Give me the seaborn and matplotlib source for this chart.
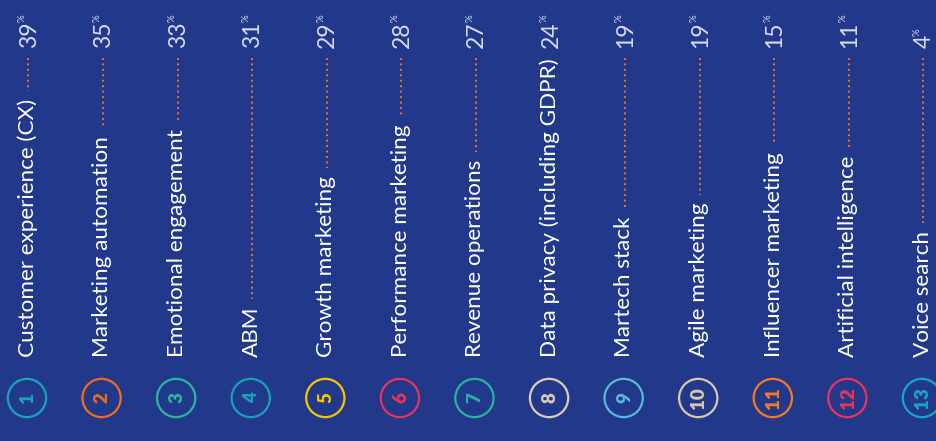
import pandas as pd
import seaborn as sns
import matplotlib.pyplot as plt
import numpy as np

# Chart data
ranks = list(range(1, 14))
topics = ["Customer experience (CX)", "Marketing automation", "Emotional engagement",
          "ABM", "Growth marketing", "Performance marketing", "Revenue operations",
          "Data privacy (including GDPR)", "Martech stack", "Agile marketing",
          "Influencer marketing", "Artificial intelligence", "Voice search"]
shares = [39, 35, 33, 31, 29, 28, 27, 24, 19, 19, 15, 11, 4]
ring_colors = ["#17a5b8", "#f26a1b", "#2bb59f", "#16a3b9", "#f7c600", "#e8345b",
               "#26b39c", "#dccdb3", "#5bb8d6", "#d9c9a9", "#f47b20", "#e8345b",
               "#13a9c1"]

bg = "#22398b"
dot_color = "#e8742a"
pct_color = "#d8dcf0"

df = pd.DataFrame({"rank": ranks, "topic": topics, "share": shares})
df["pos"] = np.arange(len(df))
df["ring_y"] = 398

sns.set_theme(style="white")
plt.rcParams["font.family"] = ["Lato", "DejaVu Sans"]

W, H = 936, 441
fig = plt.figure(figsize=(W / 100, H / 100), dpi=100, facecolor=bg)
ax = fig.add_axes([0, 0, 1, 1])
ax.set_facecolor(bg)

step = 74.58  # px between columns
x0 = 27
ax.set_xlim(-x0 / step, (W - x0) / step)
ax.set_ylim(H, 0)  # y in pixel units, top = 0
ax.set_axis_off()

# rings with the rank numbers
sns.scatterplot(data=df, x="pos", y="ring_y", hue="rank", palette=ring_colors,
                s=760, marker="o", linewidth=1.6, legend=False, ax=ax)
coll = ax.collections[0]
coll.set_edgecolor(ring_colors)
coll.set_facecolor("none")

for _, r in df.iterrows():
    ax.text(r["pos"] + 0.01, 398, str(r["rank"]), rotation=90, rotation_mode="anchor",
            ha="center", va="center", fontsize=13.5, fontweight="heavy",
            color=ring_colors[r["pos"]])

# topic labels, percentages
label_objs, pct_objs = [], []
for _, r in df.iterrows():
    t = ax.text(r["pos"] + 0.01, 357, r["topic"], rotation=90, rotation_mode="anchor",
                ha="left", va="center", fontsize=16.2, color="white")
    label_objs.append(t)
    p = ax.text(r["pos"] + 0.03, 48, str(r["share"]), rotation=90, rotation_mode="anchor",
                ha="left", va="center", fontsize=16.5, fontweight="normal", color=pct_color)
    pct_objs.append(p)

fig.canvas.draw()
renderer = fig.canvas.get_renderer()
inv = ax.transData.inverted()

for i, (t, p) in enumerate(zip(label_objs, pct_objs)):
    bb = t.get_window_extent(renderer)
    top_y = inv.transform((0, bb.y1))[1]
    if top_y - 8 > 60:
        ax.vlines(i + 0.02, 58, top_y - 8, colors=dot_color, linewidth=1.4,
                  linestyles=(0, (1, 1.8)))
    pb = p.get_window_extent(renderer)
    ptop = inv.transform((pb.x0, pb.y1))
    ax.text(ptop[0] - 0.01, ptop[1] + 1, "%", rotation=90, rotation_mode="anchor",
            ha="left", va="top", fontsize=7, color=pct_color)

fig.savefig("out.png", dpi=100, facecolor=bg)
